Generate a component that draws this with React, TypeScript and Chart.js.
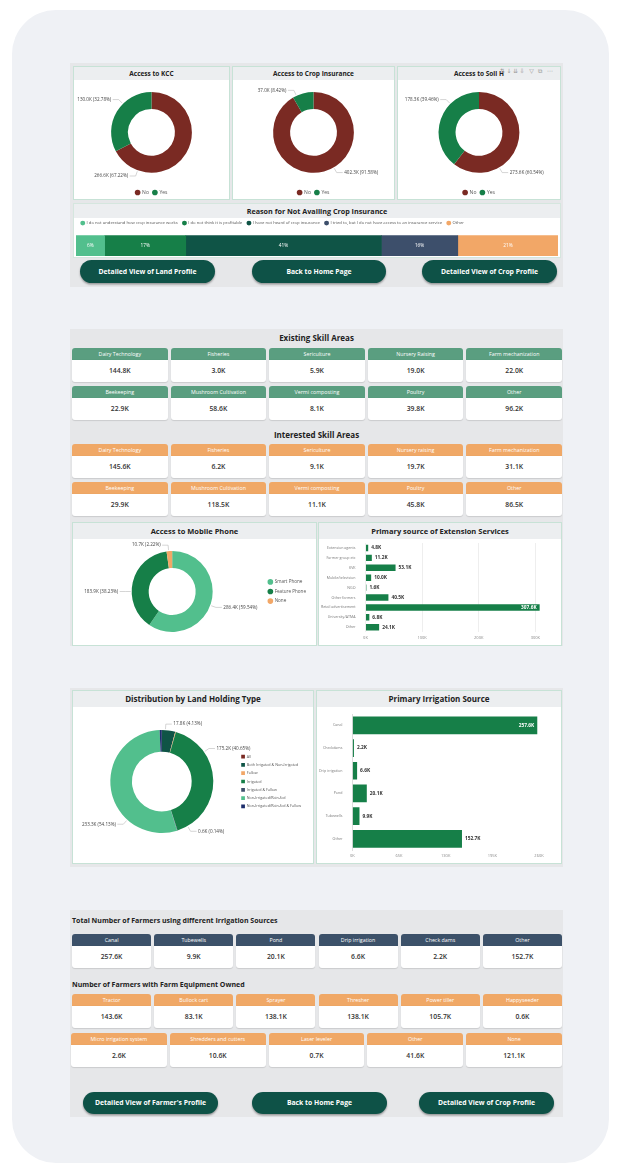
import React, { useEffect, useRef } from "react";
import { Chart, registerables } from "chart.js";

const FONT = "'Open Sans', 'Noto Sans', 'DejaVu Sans', sans-serif";

// ---------------- data ----------------
const yesNoLabels = ["No", "Yes"];
const kccValues = [266.6, 130.0];
const insuranceValues = [402.3, 37.0];
const soilValues = [273.6, 178.3];

const reasonLabels = [
  "I do not understand how crop insurance works",
  "I do not think it is profitable",
  "I have not heard of crop insurance",
  "I tried to, but I do not have access to an insurance service",
  "Other",
];
const reasonShares = [6, 17, 41, 16, 21];

const existingSkillLabels = [
  "Dairy Technology", "Fisheries", "Sericulture", "Nursery Raising", "Farm mechanization",
  "Beekeeping", "Mushroom Cultivation", "Vermi composting", "Poultry", "Other",
];
const existingSkillValues = ["144.8K", "3.0K", "5.9K", "19.0K", "22.0K", "22.9K", "58.6K", "8.1K", "39.8K", "96.2K"];
const interestedSkillLabels = [
  "Dairy Technology", "Fisheries", "Sericulture", "Nursery raising", "Farm mechanization",
  "Beekeeping", "Mushroom Cultivation", "Vermi composting", "Poultry", "Other",
];
const interestedSkillValues = ["145.6K", "6.2K", "9.1K", "19.7K", "31.1K", "29.9K", "118.5K", "11.1K", "45.8K", "86.5K"];

const phoneLabels = ["Smart Phone", "Feature Phone", "None"];
const phoneValues = [286.4, 183.9, 10.7];

const extensionLabels = [
  "Extension agents", "Farmer group etc", "KVK", "Mobile/television", "NGO",
  "Other farmers", "Retail advertisement", "University/ATMA", "Other",
];
const extensionValues = [4.8, 11.2, 53.1, 10.0, 1.6, 40.5, 307.6, 6.8, 24.1];
const extensionTicks = [0, 100, 200, 300];

const landLabels = [
  "All", "Both Irrigated & Non-Irrigated", "Fallow", "Irrigated", "Irrigated & Fallow",
  "Non-Irrigated/Rain-fed", "Non-Irrigated/Rain-fed & Fallow",
];
const landValues = [0.3, 17.8, 0.9, 175.2, 0.6, 233.3, 2.9];

const irrigationChartLabels = ["Canal", "Checkdams", "Drip irrigation", "Pond", "Tubewells", "Other"];
const irrigationChartValues = [257.6, 2.2, 6.6, 20.1, 9.9, 152.7];
const irrigationTicks = [0, 65, 130, 195, 260];

const irrigationTileLabels = ["Canal", "Tubewells", "Pond", "Drip irrigation", "Check dams", "Other"];
const irrigationTileValues = ["257.6K", "9.9K", "20.1K", "6.6K", "2.2K", "152.7K"];

const equipmentLabels1 = ["Tractor", "Bullock cart", "Sprayer", "Thresher", "Power tiller", "Happyseeder"];
const equipmentValues1 = ["143.6K", "83.1K", "138.1K", "138.1K", "105.7K", "0.6K"];
const equipmentLabels2 = ["Micro irrigation system", "Shredders and cutters", "Laser leveler", "Other", "None"];
const equipmentValues2 = ["2.6K", "10.6K", "0.7K", "41.6K", "121.1K"];

// ---------------- colours ----------------
const RED = "#7a2a23";
const GREEN = "#167f48";
const LIGHT_GREEN = "#52bf8d";
const TEAL = "#0f5446";
const SLATE = "#3d4f6b";
const ORANGE = "#f2a767";
const NAVY = "#1c2d6b";
const SKILL_GREEN = "#5a9e80";
const TILE_ORANGE = "#f0a866";
const TILE_SLATE = "#3c5169";
const BTN = "#0e5247";
const PANEL = "#e6e7e9";

// ---------------- plugins ----------------
const donutLabelPlugin = {
  id: "donutLabels",
  afterDatasetsDraw(chart: any, _args: any, opts: any) {
    const texts = opts && opts.texts;
    if (!texts) return;
    const angles = opts.angles || [];
    const meta = chart.getDatasetMeta(0);
    const ctx = chart.ctx;
    ctx.save();
    ctx.font = `${opts.size || 5}px ${FONT}`;
    meta.data.forEach((arc: any, i: number) => {
      const t = texts[i];
      if (!t) return;
      const p = arc.getProps(["x", "y", "outerRadius", "startAngle", "endAngle"], true);
      const a = angles[i] != null ? ((angles[i] - 90) * Math.PI) / 180 : (p.startAngle + p.endAngle) / 2;
      const r1 = p.outerRadius + 1;
      const r2 = p.outerRadius + 6;
      const x1 = p.x + Math.cos(a) * r1, y1 = p.y + Math.sin(a) * r1;
      const x2 = p.x + Math.cos(a) * r2, y2 = p.y + Math.sin(a) * r2;
      const right = Math.cos(a) >= 0;
      const x3 = x2 + (right ? 6 : -6);
      ctx.strokeStyle = "#b8b8b8";
      ctx.lineWidth = 0.6;
      ctx.beginPath();
      ctx.moveTo(x1, y1);
      ctx.lineTo(x2, y2);
      ctx.lineTo(x3, y2);
      ctx.stroke();
      ctx.fillStyle = "#444";
      ctx.textAlign = right ? "left" : "right";
      ctx.textBaseline = "middle";
      ctx.fillText(t, x3 + (right ? 1.5 : -1.5), y2);
    });
    ctx.restore();
  },
};

const barLabelPlugin = {
  id: "barLabels",
  afterDatasetsDraw(chart: any, _args: any, opts: any) {
    if (!opts || !opts.mode) return;
    const ctx = chart.ctx;
    ctx.save();
    ctx.font = `${opts.weight || "bold"} ${opts.size || 5}px ${FONT}`;
    ctx.textBaseline = "middle";
    if (opts.mode === "stack") {
      chart.data.datasets.forEach((ds: any, di: number) => {
        const meta = chart.getDatasetMeta(di);
        meta.data.forEach((bar: any, i: number) => {
          const p = bar.getProps(["x", "y", "base"], true);
          ctx.fillStyle = "#fff";
          ctx.textAlign = "center";
          ctx.fillText(ds.data[i] + "%", (p.x + p.base) / 2, p.y);
        });
      });
    } else {
      const meta = chart.getDatasetMeta(0);
      const area = chart.chartArea;
      const ds = chart.data.datasets[0];
      meta.data.forEach((bar: any, i: number) => {
        const p = bar.getProps(["x", "y", "base"], true);
        const text = ds.data[i].toFixed(1) + "K";
        const inside = p.x - area.left > (area.right - area.left) * 0.85;
        if (inside) {
          ctx.fillStyle = "#fff";
          ctx.textAlign = "right";
          ctx.fillText(text, p.x - 3, p.y);
        } else {
          ctx.fillStyle = "#333";
          ctx.textAlign = "left";
          ctx.fillText(text, p.x + 3, p.y);
        }
      });
    }
    ctx.restore();
  },
};

Chart.register(...registerables, donutLabelPlugin, barLabelPlugin);

// ---------------- helpers ----------------
const S = (x: number, y: number, w: number, h: number): React.CSSProperties => ({
  position: "absolute", left: x, top: y, width: w, height: h, boxSizing: "border-box",
});

function ChartBox({ config, x, y, w, h }: any) {
  const ref = useRef<HTMLCanvasElement>(null);
  useEffect(() => {
    const chart = new Chart(ref.current as HTMLCanvasElement, config);
    return () => chart.destroy();
  }, []);
  return <canvas ref={ref} width={w} height={h} style={{ position: "absolute", left: x, top: y, width: w, height: h }} />;
}

function pctTexts(values: number[], show: number[]) {
  const total = values.reduce((a, b) => a + b, 0);
  return values.map((v, i) =>
    show.includes(i) ? `${v.toFixed(1)}K (${((v / total) * 100).toFixed(2)}%)` : null
  );
}

function donutConfig(labels: string[], values: number[], colors: string[], o: any) {
  return {
    type: "doughnut",
    data: { labels, datasets: [{ data: values, backgroundColor: colors, borderWidth: 0 }] },
    options: {
      responsive: false,
      animation: false,
      devicePixelRatio: 1,
      cutout: o.cutout || "58%",
      layout: { padding: o.padding },
      plugins: {
        legend: o.legend,
        tooltip: { enabled: false },
        donutLabels: { texts: pctTexts(values, o.show), angles: o.angles, size: 4.6 },
      },
    },
  };
}

const smallLegendBottom = {
  display: true,
  position: "bottom",
  title: { display: true, text: " ", font: { size: 1 }, padding: 6 },
  labels: {
    usePointStyle: true, pointStyle: "circle", boxWidth: 4, boxHeight: 4, padding: 4,
    font: { size: 5, family: FONT }, color: "#555",
  },
};

function sideLegend(style: string, pad: number, size: number) {
  return {
    display: true,
    position: "right",
    labels: {
      usePointStyle: true, pointStyle: style, boxWidth: 4, boxHeight: 4, padding: pad,
      font: { size, family: FONT }, color: "#555",
    },
  };
}

function hbarConfig(labels: string[], values: number[], ticks: number[], o: any) {
  return {
    type: "bar",
    data: {
      labels,
      datasets: [{ data: values, backgroundColor: GREEN, barPercentage: o.barPct, categoryPercentage: o.catPct }],
    },
    options: {
      indexAxis: "y",
      responsive: false,
      animation: false,
      devicePixelRatio: 1,
      layout: { padding: o.padding },
      scales: {
        x: {
          min: 0,
          max: ticks[ticks.length - 1] + o.extra,
          afterBuildTicks: (scale: any) => { scale.ticks = ticks.map((v) => ({ value: v })); },
          ticks: { font: { size: 4, family: FONT }, color: "#888", callback: (v: any) => v + "K", padding: 3 },
          grid: { color: o.grid ? "#eeeeee" : "rgba(0,0,0,0)", drawTicks: false },
          border: { display: false },
        },
        y: {
          ticks: { font: { size: 3.6, family: FONT }, color: "#777", padding: 2 },
          grid: { display: false },
          border: { display: o.axisLine, color: "#ddd" },
        },
      },
      plugins: { legend: { display: false }, tooltip: { enabled: false }, barLabels: { mode: "value", size: 4.8 } },
    },
  };
}

const reasonColors = [LIGHT_GREEN, GREEN, TEAL, SLATE, ORANGE];
const reasonConfig = {
  type: "bar",
  data: {
    labels: [""],
    datasets: reasonLabels.map((l, i) => ({
      label: l, data: [reasonShares[i]], backgroundColor: reasonColors[i], barPercentage: 1, categoryPercentage: 1,
    })),
  },
  options: {
    indexAxis: "y",
    responsive: false,
    animation: false,
    devicePixelRatio: 1,
    layout: { padding: 0 },
    scales: {
      x: { stacked: true, display: false, min: 0, max: reasonShares.reduce((a, b) => a + b, 0) },
      y: { stacked: true, display: false },
    },
    plugins: {
      legend: {
        display: true, position: "top", align: "start",
        labels: {
          usePointStyle: true, pointStyle: "circle", boxWidth: 3.5, boxHeight: 3.5, padding: 5,
          font: { size: 4.2, family: FONT }, color: "#555",
        },
      },
      tooltip: { enabled: false },
      barLabels: { mode: "stack", size: 4.8, weight: "normal" },
    },
  },
};

function Card({ x, y, w, h, title, titleSize = 6.5, band = 13 }: any) {
  return (
    <div style={{ ...S(x, y, w, h), background: "#fff", border: "1px solid #c7e2d6" }}>
      <div style={{
        position: "absolute", left: 0, top: 0, right: 0, height: band, background: "#eceef0",
        fontFamily: FONT, fontWeight: 700, fontSize: titleSize, color: "#222", textAlign: "center", lineHeight: band + "px",
      }}>{title}</div>
    </div>
  );
}

function Tile({ x, y, w, label, value, color, headH = 12, valH = 22 }: any) {
  return (
    <>
      <div style={{
        ...S(x, y, w, headH), background: color, borderRadius: "3px 3px 0 0", color: "#fff", fontSize: 5.3,
        lineHeight: headH + "px", textAlign: "center", fontFamily: FONT, overflow: "hidden", whiteSpace: "nowrap",
      }}>{label}</div>
      <div style={{
        ...S(x, y + headH, w, valH), background: "#fff", borderRadius: "0 0 3px 3px", color: "#333", fontSize: 6.8,
        fontWeight: 600, lineHeight: valH + "px", textAlign: "center", fontFamily: FONT,
        boxShadow: "0 0.5px 1px rgba(0,0,0,0.12)",
      }}>{value}</div>
    </>
  );
}

function TileRow({ x0, x1, y, labels, values, color, gap = 3, valH = 22 }: any) {
  const n = labels.length;
  const w = (x1 - x0 - gap * (n - 1)) / n;
  return (
    <>
      {labels.map((l: string, i: number) => (
        <Tile key={i} x={x0 + i * (w + gap)} y={y} w={w} label={l} value={values[i]} color={color} valH={valH} />
      ))}
    </>
  );
}

function Btn({ x, y, w, h, text }: any) {
  return (
    <div style={{
      ...S(x, y, w, h), background: BTN, borderRadius: h / 2, color: "#fff", fontFamily: FONT, fontWeight: 700,
      fontSize: 6.8, textAlign: "center", lineHeight: h + "px", boxShadow: "0 1.5px 2px rgba(0,0,0,0.35)",
    }}>{text}</div>
  );
}

function Title({ x, y, w, text, size = 8, align = "center" }: any) {
  return (
    <div style={{
      position: "absolute", left: x, top: y, width: w, fontFamily: FONT, fontWeight: 700, fontSize: size,
      color: "#222", textAlign: align, lineHeight: "12px", whiteSpace: "nowrap",
    }}>{text}</div>
  );
}

export default function App() {
  const topDonut = (values: number[], angles: number[]) =>
    donutConfig(yesNoLabels, values, [RED, GREEN], {
      padding: { top: 12, bottom: 0 }, legend: smallLegendBottom, show: [0, 1], angles,
    });

  return (
    <div style={{ position: "absolute", left: 0, top: 0, width: 621, height: 1165, background: "#fff", overflow: "hidden" }}>
      <div style={{ ...S(12, 10, 597, 1153), background: "#eff1f5", borderRadius: 44 }} />

      {/* Panel 1 */}
      <div style={{ ...S(70, 63, 493, 224), background: PANEL }} />
      <Card x={73} y={66} w={157} h={134} title="Access to KCC" />
      <Card x={232} y={66} w={163} h={134} title="Access to Crop Insurance" />
      <Card x={397} y={66} w={164} h={134} title="Access to Soil H" />
      <div style={{ position: "absolute", left: 500, top: 67, fontFamily: FONT, fontSize: 6, color: "#999", letterSpacing: 1.5 }}>⇅↓⇊⇩ ▽ ⧉ ⋯</div>
      <ChartBox x={74} y={80} w={155} h={125} config={topDonut(kccValues, [200, -45])} />
      <ChartBox x={233} y={80} w={161} h={125} config={topDonut(insuranceValues, [150, -25])} />
      <ChartBox x={398} y={80} w={162} h={125} config={topDonut(soilValues, [150, -45])} />

      <div style={{ ...S(73, 203, 488, 55), background: "#fff", border: "1px solid #d5e6de" }}>
        <div style={{
          position: "absolute", left: 0, top: 0, right: 0, height: 14, background: "#eceef0", fontFamily: FONT,
          fontWeight: 700, fontSize: 7.2, color: "#222", textAlign: "center", lineHeight: "14px",
        }}>Reason for Not Availing Crop Insurance</div>
      </div>
      <ChartBox x={76} y={216} w={482} h={40} config={reasonConfig} />

      <Btn x={80} y={260} w={135} h={23} text="Detailed View of Land Profile" />
      <Btn x={252} y={260} w={134} h={23} text="Back to Home Page" />
      <Btn x={422} y={260} w={135} h={23} text="Detailed View of Crop Profile" />

      {/* Panel 2 */}
      <div style={{ ...S(70, 329, 493, 317), background: PANEL }} />
      <Title x={70} y={332} w={493} text="Existing Skill Areas" />
      <TileRow x0={72} x1={562} y={348} labels={existingSkillLabels.slice(0, 5)} values={existingSkillValues.slice(0, 5)} color={SKILL_GREEN} />
      <TileRow x0={72} x1={562} y={386} labels={existingSkillLabels.slice(5)} values={existingSkillValues.slice(5)} color={SKILL_GREEN} />
      <Title x={70} y={429} w={493} text="Interested Skill Areas" />
      <TileRow x0={72} x1={562} y={444} labels={interestedSkillLabels.slice(0, 5)} values={interestedSkillValues.slice(0, 5)} color={TILE_ORANGE} />
      <TileRow x0={72} x1={562} y={482} labels={interestedSkillLabels.slice(5)} values={interestedSkillValues.slice(5)} color={TILE_ORANGE} />

      <Card x={72} y={522} w={245} h={124} title="Access to Mobile Phone" titleSize={7.5} band={16} />
      <Card x={318} y={522} w={244} h={124} title="Primary source of Extension Services" titleSize={7.5} band={16} />
      <ChartBox x={73} y={538} w={243} h={107}
        config={donutConfig(phoneLabels, phoneValues, [LIGHT_GREEN, GREEN, ORANGE], {
          padding: { top: 13, bottom: 13, left: 8 }, legend: sideLegend("circle", 5, 4.6), show: [0, 1, 2], angles: [110, -90, -5],
        })} />
      <ChartBox x={319} y={538} w={242} h={107}
        config={hbarConfig(extensionLabels, extensionValues, extensionTicks, {
          padding: { left: 0, right: 20, top: 5, bottom: 2 }, barPct: 0.72, catPct: 0.9, extra: 10, grid: true, axisLine: false,
        })} />

      {/* Panel 3 */}
      <div style={{ ...S(70, 688, 493, 179), background: PANEL }} />
      <Card x={72} y={690} w={242} h={174} title="Distribution by Land Holding Type" titleSize={8} band={16} />
      <Card x={316} y={690} w={246} h={174} title="Primary Irrigation Source" titleSize={8} band={16} />
      <ChartBox x={73} y={706} w={240} h={157}
        config={donutConfig(landLabels, landValues, [RED, TEAL, ORANGE, GREEN, SLATE, LIGHT_GREEN, NAVY], {
          padding: { top: 24, bottom: 30, left: 14, right: 2 }, legend: sideLegend("rect", 4.6, 3.7), show: [1, 3, 4, 5],
          angles: [null, 4, null, 55, 150, 222, null],
        })} />
      <ChartBox x={317} y={706} w={244} h={157}
        config={hbarConfig(irrigationChartLabels, irrigationChartValues, irrigationTicks, {
          padding: { left: 0, right: 22, top: 8, bottom: 2 }, barPct: 0.78, catPct: 1, extra: 0, grid: false, axisLine: true,
        })} />

      {/* Panel 4 */}
      <div style={{ ...S(70, 910, 493, 207), background: PANEL }} />
      <Title x={72} y={915} w={400} text="Total Number of Farmers using different Irrigation Sources" size={7} align="left" />
      <TileRow x0={72} x1={562} y={934} labels={irrigationTileLabels} values={irrigationTileValues} color={TILE_SLATE} />
      <Title x={72} y={979} w={400} text="Number of Farmers with Farm Equipment Owned" size={7} align="left" />
      <TileRow x0={72} x1={562} y={994} labels={equipmentLabels1} values={equipmentValues1} color={TILE_ORANGE} />
      <TileRow x0={71} x1={562} y={1033} labels={equipmentLabels2} values={equipmentValues2} color={TILE_ORANGE} />

      <Btn x={83} y={1092} w={135} h={22} text="Detailed View of Farmer's Profile" />
      <Btn x={252} y={1092} w={135} h={22} text="Back to Home Page" />
      <Btn x={419} y={1092} w={135} h={22} text="Detailed View of Crop Profile" />
    </div>
  );
}
